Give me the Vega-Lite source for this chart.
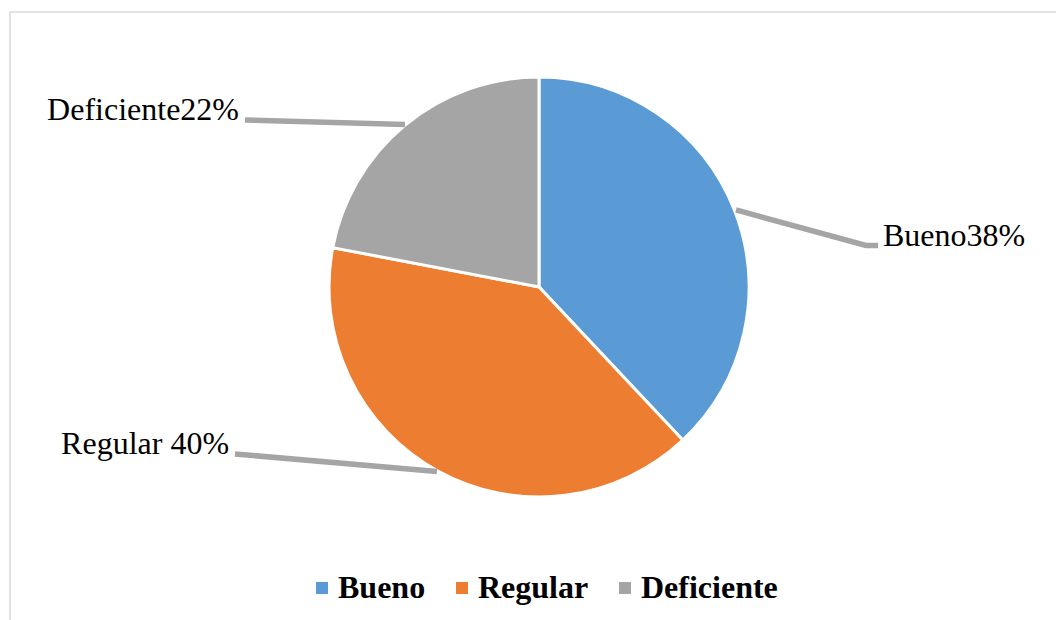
{
  "$schema": "https://vega.github.io/schema/vega-lite/v6.json",
  "width": 1056,
  "height": 620,
  "autosize": {"type": "none"},
  "padding": 0,
  "background": "white",
  "config": {"view": {"stroke": null}},
  "datasets": {
    "slices": [
      {"cat": "Bueno", "value": 38, "ord": 1},
      {"cat": "Regular", "value": 40, "ord": 2},
      {"cat": "Deficiente", "value": 22, "ord": 3}
    ],
    "leaders": [
      {"cat": "Bueno", "p": 1, "u": 0.938, "v": 0.367},
      {"cat": "Bueno", "p": 2, "u": 1.557, "v": 0.198},
      {"cat": "Bueno", "p": 3, "u": 1.615, "v": 0.198},
      {"cat": "Deficiente", "p": 1, "u": -0.638, "v": 0.774},
      {"cat": "Deficiente", "p": 2, "u": -1.400, "v": 0.795},
      {"cat": "Regular", "p": 1, "u": -0.486, "v": -0.879},
      {"cat": "Regular", "p": 2, "u": -1.448, "v": -0.795}
    ],
    "labels": [
      {"text": "Bueno38%", "u": 1.638, "v": 0.195, "side": "left"},
      {"text": "Deficiente22%", "u": -1.4286, "v": 0.795, "side": "right"},
      {"text": "Regular 40%", "u": -1.476, "v": -0.795, "side": "right"}
    ],
    "frame": [
      {"u": -2.519, "v": 1.3095, "u2": 2.7, "v2": -1.8}
    ]
  },
  "layer": [
    {
      "data": {"name": "frame"},
      "mark": {"type": "rect", "fill": null, "stroke": "#D9D9D9", "strokeWidth": 1.5},
      "encoding": {
        "x": {"field": "u", "type": "quantitative", "scale": {"domain": [-2.5667, 2.4619], "nice": false, "zero": false}, "axis": null},
        "x2": {"field": "u2"},
        "y": {"field": "v", "type": "quantitative", "scale": {"domain": [-1.5857, 1.3667], "nice": false, "zero": false}, "axis": null},
        "y2": {"field": "v2"}
      }
    },
    {
      "data": {"name": "slices"},
      "mark": {"type": "arc", "outerRadius": 210, "stroke": "white", "strokeWidth": 3},
      "encoding": {
        "x": {"datum": 0, "type": "quantitative"},
        "y": {"datum": 0, "type": "quantitative"},
        "theta": {"field": "value", "type": "quantitative", "stack": true},
        "order": {"field": "ord", "type": "quantitative"},
        "color": {
          "field": "cat",
          "type": "nominal",
          "scale": {"domain": ["Bueno", "Regular", "Deficiente"], "range": ["#5B9BD5", "#ED7D31", "#A5A5A5"]},
          "legend": {
            "title": null,
            "orient": "none",
            "direction": "horizontal",
            "legendX": 306,
            "legendY": 572,
            "padding": 0,
            "symbolType": "square",
            "symbolSize": 144,
            "symbolStrokeWidth": 0,
            "labelFont": "Liberation Serif",
            "labelFontSize": 32,
            "labelFontWeight": "bold",
            "labelColor": "black",
            "labelOffset": 0,
            "columnPadding": 20,
            "labelLimit": 400
          }
        }
      }
    },
    {
      "data": {"name": "leaders"},
      "mark": {"type": "line", "color": "#A5A5A5", "strokeWidth": 5.5, "strokeCap": "butt", "strokeJoin": "miter"},
      "encoding": {
        "x": {"field": "u", "type": "quantitative"},
        "y": {"field": "v", "type": "quantitative"},
        "detail": {"field": "cat"},
        "order": {"field": "p", "type": "quantitative"}
      }
    },
    {
      "data": {"name": "labels"},
      "transform": [{"filter": "datum.side == 'left'"}],
      "mark": {"type": "text", "align": "left", "baseline": "alphabetic", "font": "Liberation Serif", "fontSize": 32, "color": "black"},
      "encoding": {
        "x": {"field": "u", "type": "quantitative"},
        "y": {"field": "v", "type": "quantitative"},
        "text": {"field": "text"}
      }
    },
    {
      "data": {"name": "labels"},
      "transform": [{"filter": "datum.side == 'right'"}],
      "mark": {"type": "text", "align": "right", "baseline": "alphabetic", "font": "Liberation Serif", "fontSize": 32, "color": "black"},
      "encoding": {
        "x": {"field": "u", "type": "quantitative"},
        "y": {"field": "v", "type": "quantitative"},
        "text": {"field": "text"}
      }
    }
  ]
}
